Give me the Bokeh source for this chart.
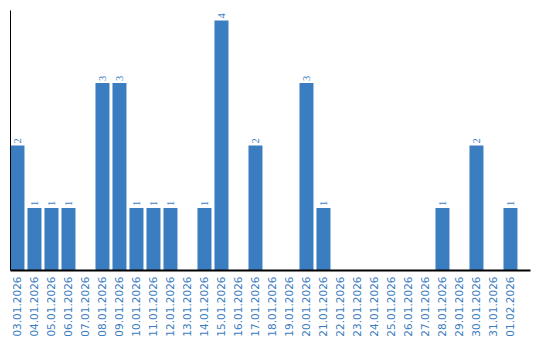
import math
from bokeh.plotting import figure
from bokeh.models import Range1d, FixedTicker, ColumnDataSource
from bokeh.embed import file_html
from bokeh.resources import INLINE

dates = ["03.01.2026", "04.01.2026", "05.01.2026", "06.01.2026", "07.01.2026",
         "08.01.2026", "09.01.2026", "10.01.2026", "11.01.2026", "12.01.2026",
         "13.01.2026", "14.01.2026", "15.01.2026", "16.01.2026", "17.01.2026",
         "18.01.2026", "19.01.2026", "20.01.2026", "21.01.2026", "22.01.2026",
         "23.01.2026", "24.01.2026", "25.01.2026", "26.01.2026", "27.01.2026",
         "28.01.2026", "29.01.2026", "30.01.2026", "31.01.2026", "01.02.2026"]
counts = [2, 1, 1, 1, 0, 3, 3, 1, 1, 1, 0, 1, 4, 0, 2, 0, 0, 3, 1, 0,
          0, 0, 0, 0, 0, 1, 0, 2, 0, 1]

BLUE = "#3b7dc1"
xs = list(range(len(dates)))

p = figure(width=540, height=340, output_backend="svg", toolbar_location=None,
           x_range=Range1d(-0.41, -0.41 + 520 / 17), y_range=Range1d(0, 4.16),
           min_border_left=10, min_border_right=10, min_border_top=10,
           min_border_bottom=70)
p.outline_line_color = None
p.grid.visible = False

src = ColumnDataSource(dict(x=xs, top=counts))
p.vbar(x="x", top="top", width=14 / 17, bottom=0, source=src,
       fill_color=BLUE, line_color=None)

lab = ColumnDataSource(dict(x=[x for x, c in zip(xs, counts) if c > 0],
                            y=[c for c in counts if c > 0],
                            t=[str(c) for c in counts if c > 0]))
p.text(x="x", y="y", text="t", source=lab, angle=math.pi / 2,
       text_align="left", text_baseline="middle", y_offset=-2,
       text_color=BLUE, text_font_size="10.5px", text_font="DejaVu Sans")

p.xaxis.ticker = FixedTicker(ticks=xs)
p.xaxis.major_label_overrides = {i: d for i, d in enumerate(dates)}
p.xaxis.major_label_orientation = math.pi / 2
p.xaxis.major_label_text_color = BLUE
p.xaxis.major_label_text_font = "DejaVu Sans"
p.xaxis.major_label_text_font_size = "10.5px"
p.xaxis.major_label_standoff = 6
p.xaxis.major_tick_out = 0
p.xaxis.major_tick_in = 0
p.xaxis.major_tick_line_color = None
p.xaxis.minor_tick_line_color = None
p.xaxis.axis_line_color = "black"
p.xaxis.axis_line_width = 2

p.yaxis.ticker = FixedTicker(ticks=[])
p.yaxis.major_tick_out = 0
p.yaxis.major_tick_in = 0
p.yaxis.major_tick_line_color = None
p.yaxis.minor_tick_line_color = None
p.yaxis.major_label_standoff = 0
p.yaxis.axis_line_color = "black"
p.yaxis.axis_line_width = 1

open("out.html", "w").write(file_html(p, INLINE))
